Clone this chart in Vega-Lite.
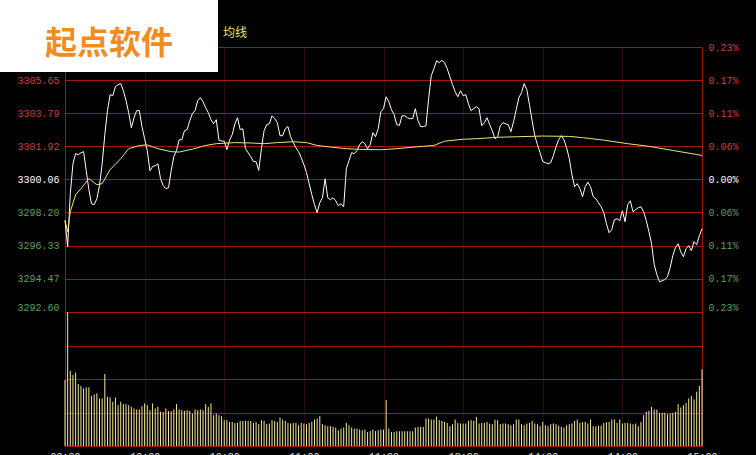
{
"$schema":"https://vega.github.io/schema/vega-lite/v6.json",
"background":"#000000",
"autosize":{"type":"pad"},
"padding":{"left":0,"top":0,"right":17,"bottom":0},
"bounds":"flush",
"spacing":0,
"config":{
 "view":{"stroke":"#a01818","strokeWidth":1},
 "axis":{"domain":false,"ticks":false,"tickSize":0,"labelFont":"Liberation Mono","labelFontSize":10,"gridColor":"#a01818","gridOpacity":1,"title":null}
},
"datasets":{
"price":[{"min":0,"price":3297.75},{"min":1,"price":3296.27},{"min":2,"price":3299.26},{"min":3,"price":3300.94},{"min":4,"price":3301.51},{"min":5,"price":3301.45},{"min":6,"price":3301.56},{"min":7,"price":3301.62},{"min":8,"price":3300.55},{"min":9,"price":3299.48},{"min":10,"price":3298.69},{"min":11,"price":3298.64},{"min":12,"price":3298.97},{"min":13,"price":3299.71},{"min":14,"price":3300.94},{"min":15,"price":3302.58},{"min":16,"price":3303.93},{"min":17,"price":3304.83},{"min":18,"price":3304.77},{"min":19,"price":3305.28},{"min":20,"price":3305.39},{"min":21,"price":3305.45},{"min":22,"price":3305.05},{"min":23,"price":3304.49},{"min":24,"price":3303.81},{"min":25,"price":3302.97},{"min":26,"price":3303.53},{"min":27,"price":3303.93},{"min":28,"price":3303.93},{"min":29,"price":3303.03},{"min":30,"price":3302.35},{"min":31,"price":3301.68},{"min":32,"price":3300.55},{"min":33,"price":3300.78},{"min":34,"price":3300.83},{"min":35,"price":3300.94},{"min":36,"price":3300.10},{"min":37,"price":3299.71},{"min":38,"price":3299.54},{"min":39,"price":3299.59},{"min":40,"price":3300.55},{"min":41,"price":3301.34},{"min":42,"price":3301.68},{"min":43,"price":3302.29},{"min":44,"price":3302.29},{"min":45,"price":3302.80},{"min":46,"price":3302.86},{"min":47,"price":3303.36},{"min":48,"price":3303.76},{"min":49,"price":3303.93},{"min":50,"price":3304.49},{"min":51,"price":3304.66},{"min":52,"price":3304.43},{"min":53,"price":3304.09},{"min":54,"price":3303.81},{"min":55,"price":3303.42},{"min":56,"price":3303.19},{"min":57,"price":3303.42},{"min":58,"price":3302.26},{"min":59,"price":3302.22},{"min":60,"price":3302.21},{"min":61,"price":3301.73},{"min":62,"price":3302.27},{"min":63,"price":3302.58},{"min":64,"price":3303.19},{"min":65,"price":3303.53},{"min":66,"price":3302.86},{"min":67,"price":3302.91},{"min":68,"price":3301.79},{"min":69,"price":3301.56},{"min":70,"price":3301.34},{"min":71,"price":3301.06},{"min":72,"price":3301.06},{"min":73,"price":3300.57},{"min":74,"price":3301.79},{"min":75,"price":3302.80},{"min":76,"price":3303.14},{"min":77,"price":3303.19},{"min":78,"price":3303.64},{"min":79,"price":3303.48},{"min":80,"price":3303.25},{"min":81,"price":3302.52},{"min":82,"price":3302.52},{"min":83,"price":3302.91},{"min":84,"price":3303.03},{"min":85,"price":3302.46},{"min":86,"price":3302.13},{"min":87,"price":3301.84},{"min":88,"price":3301.62},{"min":89,"price":3301.28},{"min":90,"price":3300.89},{"min":91,"price":3300.44},{"min":92,"price":3299.82},{"min":93,"price":3299.20},{"min":94,"price":3298.64},{"min":95,"price":3298.19},{"min":96,"price":3298.75},{"min":97,"price":3299.03},{"min":98,"price":3300.10},{"min":99,"price":3299.03},{"min":100,"price":3298.92},{"min":101,"price":3299.03},{"min":102,"price":3298.86},{"min":103,"price":3298.58},{"min":104,"price":3298.69},{"min":105,"price":3298.52},{"min":106,"price":3300.66},{"min":107,"price":3301.11},{"min":108,"price":3301.56},{"min":109,"price":3301.51},{"min":110,"price":3301.68},{"min":111,"price":3302.01},{"min":112,"price":3302.18},{"min":113,"price":3302.07},{"min":114,"price":3301.79},{"min":115,"price":3302.01},{"min":116,"price":3302.69},{"min":117,"price":3302.46},{"min":118,"price":3302.91},{"min":119,"price":3303.87},{"min":120,"price":3304.04},{"min":121,"price":3304.71},{"min":122,"price":3304.43},{"min":123,"price":3303.98},{"min":124,"price":3303.70},{"min":125,"price":3303.14},{"min":126,"price":3303.10},{"min":127,"price":3303.64},{"min":128,"price":3303.64},{"min":129,"price":3303.53},{"min":130,"price":3303.48},{"min":131,"price":3303.48},{"min":132,"price":3304.04},{"min":133,"price":3303.36},{"min":134,"price":3303.03},{"min":135,"price":3303.03},{"min":136,"price":3303.08},{"min":137,"price":3304.60},{"min":138,"price":3305.90},{"min":139,"price":3306.29},{"min":140,"price":3306.74},{"min":141,"price":3306.63},{"min":142,"price":3306.76},{"min":143,"price":3306.63},{"min":144,"price":3306.29},{"min":145,"price":3305.84},{"min":146,"price":3305.39},{"min":147,"price":3305.00},{"min":148,"price":3304.71},{"min":149,"price":3305.05},{"min":150,"price":3304.77},{"min":151,"price":3304.83},{"min":152,"price":3304.32},{"min":153,"price":3303.93},{"min":154,"price":3304.04},{"min":155,"price":3304.15},{"min":156,"price":3304.04},{"min":157,"price":3303.08},{"min":158,"price":3303.25},{"min":159,"price":3303.53},{"min":160,"price":3303.14},{"min":161,"price":3302.80},{"min":162,"price":3302.35},{"min":163,"price":3302.46},{"min":164,"price":3303.08},{"min":165,"price":3303.25},{"min":166,"price":3303.19},{"min":167,"price":3303.14},{"min":168,"price":3302.74},{"min":169,"price":3303.31},{"min":170,"price":3303.98},{"min":171,"price":3304.66},{"min":172,"price":3304.94},{"min":173,"price":3305.45},{"min":174,"price":3305.11},{"min":175,"price":3304.26},{"min":176,"price":3303.36},{"min":177,"price":3302.52},{"min":178,"price":3302.01},{"min":179,"price":3301.56},{"min":180,"price":3301.06},{"min":181,"price":3301.00},{"min":182,"price":3300.94},{"min":183,"price":3301.00},{"min":184,"price":3301.39},{"min":185,"price":3301.90},{"min":186,"price":3302.29},{"min":187,"price":3302.52},{"min":188,"price":3302.29},{"min":189,"price":3301.84},{"min":190,"price":3301.23},{"min":191,"price":3300.32},{"min":192,"price":3299.65},{"min":193,"price":3299.82},{"min":194,"price":3299.54},{"min":195,"price":3299.09},{"min":196,"price":3299.65},{"min":197,"price":3299.90},{"min":198,"price":3299.65},{"min":199,"price":3299.09},{"min":200,"price":3298.97},{"min":201,"price":3298.75},{"min":202,"price":3298.52},{"min":203,"price":3298.19},{"min":204,"price":3297.57},{"min":205,"price":3297.06},{"min":206,"price":3297.23},{"min":207,"price":3297.79},{"min":208,"price":3297.85},{"min":209,"price":3297.74},{"min":210,"price":3298.30},{"min":211,"price":3297.68},{"min":212,"price":3298.64},{"min":213,"price":3298.86},{"min":214,"price":3298.24},{"min":215,"price":3298.36},{"min":216,"price":3298.47},{"min":217,"price":3298.52},{"min":218,"price":3298.24},{"min":219,"price":3297.75},{"min":220,"price":3297.12},{"min":221,"price":3296.44},{"min":222,"price":3295.26},{"min":223,"price":3294.70},{"min":224,"price":3294.30},{"min":225,"price":3294.36},{"min":226,"price":3294.42},{"min":227,"price":3294.59},{"min":228,"price":3295.09},{"min":229,"price":3295.77},{"min":230,"price":3296.22},{"min":231,"price":3296.44},{"min":232,"price":3295.99},{"min":233,"price":3295.71},{"min":234,"price":3296.16},{"min":235,"price":3296.33},{"min":236,"price":3296.05},{"min":237,"price":3296.56},{"min":238,"price":3296.39},{"min":239,"price":3296.89},{"min":240,"price":3297.29}],
"avg":[{"min":0,"avg":3297.75},{"min":1,"avg":3297.12},{"min":2,"avg":3298.24},{"min":4,"avg":3299.20},{"min":6,"avg":3299.54},{"min":9,"avg":3300.10},{"min":12,"avg":3299.76},{"min":14,"avg":3299.82},{"min":17,"avg":3300.61},{"min":21,"avg":3301.23},{"min":24,"avg":3301.79},{"min":28,"avg":3301.97},{"min":31,"avg":3302.00},{"min":35,"avg":3301.79},{"min":40,"avg":3301.62},{"min":43,"avg":3301.60},{"min":48,"avg":3301.76},{"min":53,"avg":3301.97},{"min":57,"avg":3302.07},{"min":64,"avg":3302.13},{"min":70,"avg":3302.11},{"min":75,"avg":3302.07},{"min":80,"avg":3302.13},{"min":86,"avg":3302.18},{"min":91,"avg":3302.13},{"min":95,"avg":3301.97},{"min":100,"avg":3301.88},{"min":106,"avg":3301.79},{"min":111,"avg":3301.75},{"min":119,"avg":3301.73},{"min":125,"avg":3301.79},{"min":133,"avg":3301.90},{"min":139,"avg":3301.97},{"min":143,"avg":3302.21},{"min":150,"avg":3302.32},{"min":155,"avg":3302.35},{"min":163,"avg":3302.43},{"min":170,"avg":3302.46},{"min":180,"avg":3302.50},{"min":190,"avg":3302.48},{"min":195,"avg":3302.41},{"min":203,"avg":3302.27},{"min":212,"avg":3302.07},{"min":220,"avg":3301.92},{"min":229,"avg":3301.69},{"min":240,"avg":3301.41}],
"vol":[{"min":0,"vol":197},{"min":1,"vol":399},{"min":2,"vol":224},{"min":3,"vol":212},{"min":4,"vol":219},{"min":5,"vol":185},{"min":6,"vol":179},{"min":7,"vol":172},{"min":8,"vol":175},{"min":9,"vol":175},{"min":10,"vol":149},{"min":11,"vol":154},{"min":12,"vol":157},{"min":13,"vol":142},{"min":14,"vol":142},{"min":15,"vol":215},{"min":16,"vol":147},{"min":17,"vol":145},{"min":18,"vol":132},{"min":19,"vol":145},{"min":20,"vol":122},{"min":21,"vol":132},{"min":22,"vol":125},{"min":23,"vol":125},{"min":24,"vol":122},{"min":25,"vol":117},{"min":26,"vol":112},{"min":27,"vol":109},{"min":28,"vol":109},{"min":29,"vol":119},{"min":30,"vol":127},{"min":31,"vol":122},{"min":32,"vol":107},{"min":33,"vol":127},{"min":34,"vol":112},{"min":35,"vol":117},{"min":36,"vol":102},{"min":37,"vol":102},{"min":38,"vol":112},{"min":39,"vol":104},{"min":40,"vol":104},{"min":41,"vol":109},{"min":42,"vol":125},{"min":43,"vol":109},{"min":44,"vol":107},{"min":45,"vol":105},{"min":46,"vol":107},{"min":47,"vol":105},{"min":48,"vol":97},{"min":49,"vol":109},{"min":50,"vol":107},{"min":51,"vol":109},{"min":52,"vol":107},{"min":53,"vol":125},{"min":54,"vol":117},{"min":55,"vol":127},{"min":56,"vol":92},{"min":57,"vol":97},{"min":58,"vol":92},{"min":59,"vol":89},{"min":60,"vol":77},{"min":61,"vol":77},{"min":62,"vol":72},{"min":63,"vol":72},{"min":64,"vol":69},{"min":65,"vol":69},{"min":66,"vol":75},{"min":67,"vol":75},{"min":68,"vol":75},{"min":69,"vol":75},{"min":70,"vol":75},{"min":71,"vol":69},{"min":72,"vol":72},{"min":73,"vol":65},{"min":74,"vol":77},{"min":75,"vol":75},{"min":76,"vol":65},{"min":77,"vol":67},{"min":78,"vol":77},{"min":79,"vol":75},{"min":80,"vol":72},{"min":81,"vol":85},{"min":82,"vol":79},{"min":83,"vol":75},{"min":84,"vol":69},{"min":85,"vol":67},{"min":86,"vol":69},{"min":87,"vol":69},{"min":88,"vol":62},{"min":89,"vol":69},{"min":90,"vol":67},{"min":91,"vol":65},{"min":92,"vol":69},{"min":93,"vol":72},{"min":94,"vol":79},{"min":95,"vol":82},{"min":96,"vol":89},{"min":97,"vol":65},{"min":98,"vol":62},{"min":99,"vol":59},{"min":100,"vol":59},{"min":101,"vol":57},{"min":102,"vol":55},{"min":103,"vol":47},{"min":104,"vol":52},{"min":105,"vol":55},{"min":106,"vol":69},{"min":107,"vol":62},{"min":108,"vol":55},{"min":109,"vol":52},{"min":110,"vol":52},{"min":111,"vol":49},{"min":112,"vol":47},{"min":113,"vol":49},{"min":114,"vol":42},{"min":115,"vol":45},{"min":116,"vol":49},{"min":117,"vol":45},{"min":118,"vol":47},{"min":119,"vol":49},{"min":120,"vol":49},{"min":121,"vol":137},{"min":122,"vol":52},{"min":123,"vol":42},{"min":124,"vol":42},{"min":125,"vol":44},{"min":126,"vol":44},{"min":127,"vol":44},{"min":128,"vol":44},{"min":129,"vol":44},{"min":130,"vol":44},{"min":131,"vol":44},{"min":132,"vol":55},{"min":133,"vol":57},{"min":134,"vol":57},{"min":135,"vol":57},{"min":136,"vol":82},{"min":137,"vol":82},{"min":138,"vol":79},{"min":139,"vol":79},{"min":140,"vol":87},{"min":141,"vol":77},{"min":142,"vol":75},{"min":143,"vol":72},{"min":144,"vol":69},{"min":145,"vol":59},{"min":146,"vol":65},{"min":147,"vol":79},{"min":148,"vol":69},{"min":149,"vol":67},{"min":150,"vol":67},{"min":151,"vol":67},{"min":152,"vol":75},{"min":153,"vol":77},{"min":154,"vol":75},{"min":155,"vol":87},{"min":156,"vol":67},{"min":157,"vol":69},{"min":158,"vol":69},{"min":159,"vol":72},{"min":160,"vol":67},{"min":161,"vol":65},{"min":162,"vol":79},{"min":163,"vol":77},{"min":164,"vol":65},{"min":165,"vol":67},{"min":166,"vol":67},{"min":167,"vol":65},{"min":168,"vol":62},{"min":169,"vol":65},{"min":170,"vol":79},{"min":171,"vol":79},{"min":172,"vol":65},{"min":173,"vol":62},{"min":174,"vol":67},{"min":175,"vol":69},{"min":176,"vol":75},{"min":177,"vol":67},{"min":178,"vol":65},{"min":179,"vol":59},{"min":180,"vol":72},{"min":181,"vol":62},{"min":182,"vol":59},{"min":183,"vol":65},{"min":184,"vol":67},{"min":185,"vol":65},{"min":186,"vol":61},{"min":187,"vol":57},{"min":188,"vol":55},{"min":189,"vol":62},{"min":190,"vol":65},{"min":191,"vol":67},{"min":192,"vol":75},{"min":193,"vol":79},{"min":194,"vol":69},{"min":195,"vol":71},{"min":196,"vol":72},{"min":197,"vol":67},{"min":198,"vol":79},{"min":199,"vol":59},{"min":200,"vol":59},{"min":201,"vol":61},{"min":202,"vol":61},{"min":203,"vol":69},{"min":204,"vol":71},{"min":205,"vol":72},{"min":206,"vol":79},{"min":207,"vol":79},{"min":208,"vol":69},{"min":209,"vol":79},{"min":210,"vol":67},{"min":211,"vol":69},{"min":212,"vol":69},{"min":213,"vol":67},{"min":214,"vol":65},{"min":215,"vol":67},{"min":216,"vol":59},{"min":217,"vol":72},{"min":218,"vol":92},{"min":219,"vol":102},{"min":220,"vol":105},{"min":221,"vol":117},{"min":222,"vol":109},{"min":223,"vol":109},{"min":224,"vol":99},{"min":225,"vol":99},{"min":226,"vol":99},{"min":227,"vol":95},{"min":228,"vol":97},{"min":229,"vol":99},{"min":230,"vol":102},{"min":231,"vol":125},{"min":232,"vol":115},{"min":233,"vol":122},{"min":234,"vol":129},{"min":235,"vol":142},{"min":236,"vol":149},{"min":237,"vol":139},{"min":238,"vol":162},{"min":239,"vol":179},{"min":240,"vol":229}]
},
"vconcat":[
{
 "width":637,"height":265,
 "title":{"text":"均线","color":"#efe27a","fontSize":12,"font":"Noto Sans CJK SC","fontWeight":"normal","anchor":"start","frame":"group","dx":158,"offset":2},
 "layer":[
  {
   "data":{"name":"price"},
   "mark":{"type":"line","strokeWidth":1},
   "encoding":{
    "x":{"field":"min","type":"quantitative","scale":{"domain":[0,240],"nice":false,"zero":false},
     "axis":{"values":[30,60,90,120,150,180,210],"labels":false,"grid":true,"gridColor":"#5a1414","gridDash":[1,1],"gridWidth":1}},
    "y":{"field":"price","type":"quantitative","scale":{"domain":[3292.60,3307.51],"nice":false,"zero":false},
     "axis":{"orient":"left","values":[3292.60,3294.47,3296.33,3298.20,3300.06,3301.92,3303.79,3305.65,3307.51],"format":".2f","grid":true,"labelPadding":6,
      "labelColor":{"condition":[{"test":"datum.value > 3300.1","value":"#c84040"},{"test":"datum.value < 3300","value":"#5aa05a"}],"value":"#ffffff"},
      "labelBaseline":{"condition":{"test":"datum.value < 3293","value":"bottom"},"value":"middle"}}},
    "color":{"datum":"分时","type":"nominal","scale":{"domain":["分时","均线"],"range":["#ffffff","#efe27a"]},
     "legend":{"orient":"none","legendX":-65,"legendY":-47,"fillColor":"#ffffff","padding":12,"direction":"horizontal","title":"起点软件","titleColor":"#f28c1e","titleFontSize":32,"titleFont":"Noto Sans CJK SC","titleFontWeight":"bold","titleOrient":"bottom","titleAnchor":"middle","titlePadding":6,"symbolOpacity":0,"labelOpacity":0,"columnPadding":122,"zindex":1}}
   }
  },
  {
   "data":{"name":"avg"},
   "mark":{"type":"line","strokeWidth":1},
   "encoding":{
    "x":{"field":"min","type":"quantitative"},
    "y":{"field":"avg","type":"quantitative","scale":{"domain":[3292.60,3307.51],"nice":false,"zero":false},
     "axis":{"orient":"right","values":[3292.60,3294.47,3296.33,3298.20,3300.06,3301.92,3303.79,3305.65,3307.51],"grid":false,"labelPadding":6,
      "labelExpr":"format(abs(datum.value - 3300.06) / 3300.06 * 100, '.2f') + '%'",
      "labelColor":{"condition":[{"test":"datum.value > 3300.1","value":"#c84040"},{"test":"datum.value < 3300","value":"#5aa05a"}],"value":"#ffffff"},
      "labelBaseline":{"condition":{"test":"datum.value < 3293","value":"bottom"},"value":"middle"}}},
    "color":{"datum":"均线","type":"nominal"}
   }
  }
 ],
 "resolve":{"axis":{"y":"independent"}}
},
{
 "width":637,"height":134,
 "data":{"name":"vol"},
 "mark":{"type":"rule","color":"#efe8a0","strokeWidth":1},
 "encoding":{
  "x":{"field":"min","type":"quantitative","scale":{"domain":[0,240],"nice":false,"zero":false},
   "axis":{"values":[0,30,60,90,120,150,180,210,240],"labelExpr":"['09:30','10:00','10:30','11:00','11:30','13:30','14:00','14:30','15:00'][round(datum.value/30)]",
    "grid":true,"gridColor":"#5a1414","gridDash":[1,1],"gridOpacity":{"condition":{"test":"datum.value == 0 || datum.value == 240","value":0},"value":1},
    "labelColor":"#e0e0e0","labelPadding":5,"labelBaseline":"top","labelFlush":false,"labelOverlap":false}},
  "y":{"field":"vol","type":"quantitative","scale":{"domain":[0,400],"nice":false},
   "axis":{"values":[0,100,200,300,400],"labels":false,"grid":true}},
  "y2":{"datum":0}
 }
}
]
}
